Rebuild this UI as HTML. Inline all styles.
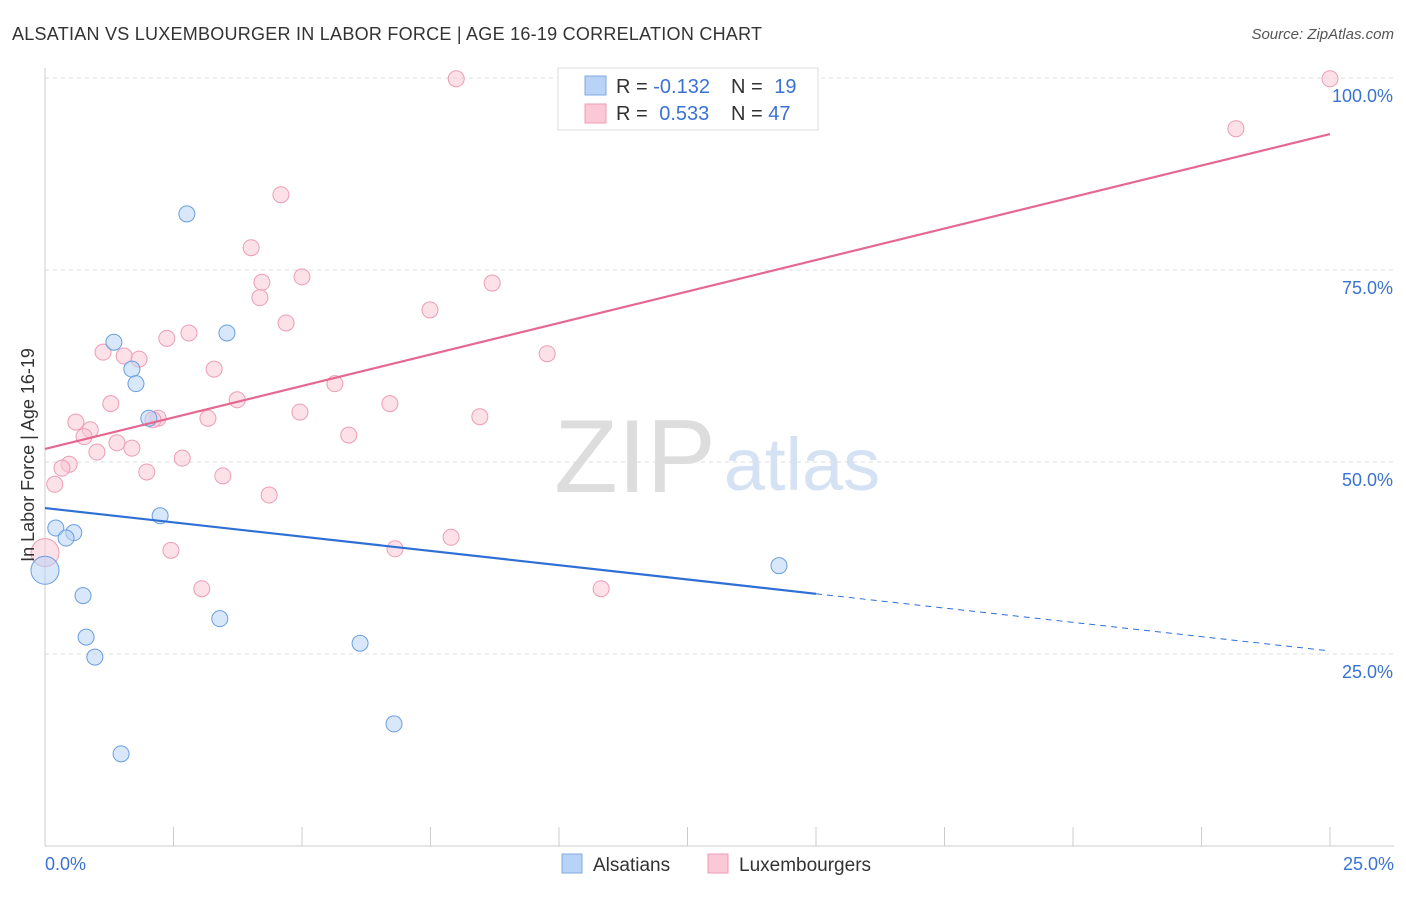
<!DOCTYPE html>
<html><head><meta charset="utf-8"><style>
body{margin:0;background:#fff;font-family:"Liberation Sans",sans-serif;}
svg text{font-family:"Liberation Sans",sans-serif;}
</style></head><body>
<svg id="c" width="1406" height="892" viewBox="0 0 1406 892">
<text x="12" y="40" font-size="18" fill="#333" textLength="750">ALSATIAN VS LUXEMBOURGER IN LABOR FORCE | AGE 16-19 CORRELATION CHART</text>
<text x="1394" y="39" font-size="15" fill="#555" font-style="italic" text-anchor="end">Source: ZipAtlas.com</text>
<text x="635" y="492" font-size="104" fill="#ddd" font-family="Liberation Serif" text-anchor="middle">ZIP</text>
<text x="802" y="490" font-size="74" fill="#d4e2f4" text-anchor="middle">atlas</text>
<g id="grid"></g><g id="marks"></g>
<text x="34" y="455" font-size="18" fill="#333" text-anchor="middle" transform="rotate(-90 34 455)">In Labor Force | Age 16-19</text>
<g>
<rect x="558" y="68" width="260" height="62" fill="#fff" stroke="#ddd"/>
<rect x="585" y="76" width="21" height="19" fill="#b8d3f5" stroke="#7fa9e0"/>
<rect x="585" y="104" width="21" height="19" fill="#fac8d7" stroke="#ec9db5"/>
<text x="616" y="93" font-size="20" fill="#333">R = <tspan fill="#3a72d4">-0.132</tspan></text>
<text x="731" y="93" font-size="20" fill="#333">N = <tspan fill="#3a72d4" dx="6">19</tspan></text>
<text x="616" y="120" font-size="20" fill="#333">R = <tspan fill="#3a72d4" dx="6">0.533</tspan></text>
<text x="731" y="120" font-size="20" fill="#333">N = <tspan fill="#3a72d4">47</tspan></text>
</g>
<g>
<rect x="562" y="854" width="20" height="19" fill="#b8d3f5" stroke="#7fa9e0"/>
<text x="593" y="871" font-size="19" fill="#333">Alsatians</text>
<rect x="708" y="854" width="20" height="19" fill="#fac8d7" stroke="#ec9db5"/>
<text x="739" y="871" font-size="19" fill="#333">Luxembourgers</text>
</g>
</svg>
<script>
const blueX=[2.76,1.34,3.54,1.69,1.77,2.02,0.21,0.56,0.41,0,2.24,0.74,0.80,0.97,3.40,6.13,6.79,1.48,14.28];
const blueY=[82.3,65.6,66.8,62.1,60.2,55.7,41.4,40.8,40.1,35.9,43.0,32.6,27.2,24.6,29.6,26.4,15.9,12.0,36.5];
const pinkX=[8.00,25.0,23.17,4.59,4.01,4.22,5.00,4.18,8.70,4.69,7.49,2.37,2.80,1.13,1.54,1.83,9.77,3.29,5.64,1.28,3.74,6.71,4.96,0.60,2.20,2.10,3.17,8.46,0.88,0.76,1.40,5.91,1.69,1.01,2.67,0.47,0.33,1.98,3.46,0.19,4.36,7.90,6.81,2.45,0,3.05,10.82];
const pinkY=[99.9,99.9,93.4,84.8,77.9,73.4,74.1,71.4,73.3,68.1,69.8,66.1,66.8,64.3,63.8,63.4,64.1,62.1,60.2,57.6,58.1,57.6,56.5,55.2,55.7,55.5,55.7,55.9,54.2,53.3,52.5,53.5,51.8,51.3,50.5,49.7,49.2,48.7,48.2,47.1,45.7,40.2,38.7,38.5,38.2,33.5,33.5];
const blueTrend=[44.0,25.4];
const pinkTrend=[51.7,92.7];
const blueSolidEnd=15;
const yTicks=[25,50,75,100];
const yTickLabels=["25.0%","50.0%","75.0%","100.0%"];
const xTickLabels=["0.0%","25.0%"];
const X=v=>45+v/25*1285, Y=v=>846-v*7.68;
const NS="http://www.w3.org/2000/svg";
const g=document.getElementById('grid'), m=document.getElementById('marks');
function el(t,a,p){const e=document.createElementNS(NS,t);for(const k in a)e.setAttribute(k,a[k]);p.appendChild(e);return e;}
yTicks.forEach((t,i)=>{
 const l=el('line',{x1:45,x2:1394,y1:Y(t),y2:Y(t),stroke:'#ddd','stroke-dasharray':'4,4'},g);
 
 
 const tx=el('text',{x:1393,y:Y(t)+24,'font-size':18,fill:'#3a72d4','text-anchor':'end'},g);
 tx.textContent=yTickLabels[i];
 
 
});
let ax=el('line',{x1:45,x2:45,y1:68,y2:846,stroke:'#ccc'},g);


ax=el('line',{x1:45,x2:1394,y1:846,y2:846,stroke:'#ccc'},g);


for(let i=0;i<=10;i++){
 const t=el('line',{x1:X(i*2.5),x2:X(i*2.5),y1:827,y2:846,stroke:'#ccc'},g);
 
 
}
[[0,'start',45],[25,'end',1394]].forEach((d,i)=>{
 const tx=el('text',{x:d[2],y:870,'font-size':18,fill:'#3a72d4','text-anchor':d[1]},g);
 tx.textContent=xTickLabels[i];
 
 
});
function pts(xs,ys,fill,stroke,name){
 xs.forEach((x,i)=>{
  const c=el('circle',{cx:X(x),cy:Y(ys[i]),r:x===0?14:8,fill:fill,'fill-opacity':0.55,stroke:stroke,'stroke-width':1},m);
  
  
 });
}
pts(pinkX,pinkY,'#fac8d7','#ec9db5','luxembourger-point');
pts(blueX,blueY,'#b8d3f5','#6a9ee0','alsatian-point');
const bAt=x=>blueTrend[0]+(blueTrend[1]-blueTrend[0])*x/25;
let l=el('line',{x1:X(0),y1:Y(bAt(0)),x2:X(blueSolidEnd),y2:Y(bAt(blueSolidEnd)),stroke:'#2e6fd6','stroke-width':2.2},m);


l=el('line',{x1:X(blueSolidEnd),y1:Y(bAt(blueSolidEnd)),x2:X(25),y2:Y(bAt(25)),stroke:'#2e6fd6','stroke-width':1,'stroke-dasharray':'6,5'},m);


l=el('line',{x1:X(0),y1:Y(pinkTrend[0]),x2:X(25),y2:Y(pinkTrend[1]),stroke:'#e56890','stroke-width':2.2},m);


</script>
</body></html>
